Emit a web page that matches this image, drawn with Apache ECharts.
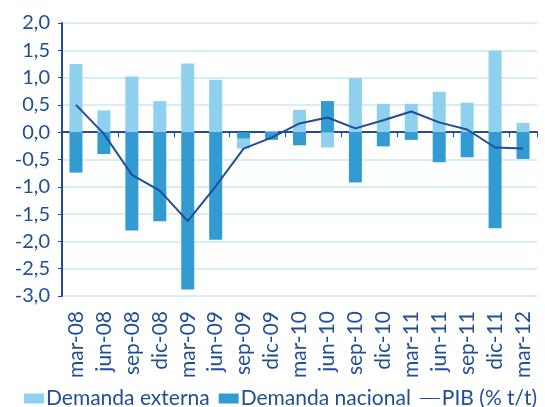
<!DOCTYPE html>
<html>
<head>
<meta charset="utf-8">
<script src="https://cdn.jsdelivr.net/npm/echarts@6/dist/echarts.min.js"></script>
<style>
  html, body { margin: 0; padding: 0; background: #fff; }
  #chart { width: 545px; height: 407px; }
</style>
</head>
<body>
<div id="chart"></div>
<script>
const categories = ['mar-08', 'jun-08', 'sep-08', 'dic-08', 'mar-09', 'jun-09', 'sep-09', 'dic-09', 'mar-10',
  'jun-10', 'sep-10', 'dic-10', 'mar-11', 'jun-11', 'sep-11', 'dic-11', 'mar-12']
const demandaExterna = [1.25, 0.40, 1.02, 0.57, 1.26, 0.96, -0.18, 0.02, 0.41, -0.28, 0.99, 0.52, 0.52, 0.74, 0.54, 1.49, 0.17]
const demandaNacional = [-0.74, -0.40, -1.80, -1.63, -2.88, -1.97, -0.12, -0.14, -0.24, 0.57, -0.92, -0.26, -0.14, -0.55, -0.46, -1.76, -0.49]
const pib = [0.50, -0.03, -0.78, -1.07, -1.63, -0.99, -0.30, -0.10, 0.16, 0.27, 0.07, 0.22, 0.38, 0.18, 0.05, -0.28, -0.30]

const navy = '#1f4e96'
const light = '#8ed0ee'
const dark = '#329bd2'
const font = 'Lato'

// thin horizontal line as legend icon (tiny corner dots keep the box size)
const lineIcon = 'path://M0,0L0.1,0L0.1,0.1Z M0,4.4L30,4.4L30,5.6L0,5.6Z M29.9,10L30,10L30,9.9Z'

const chart = echarts.init(document.getElementById('chart'))

const option = {
  animation: false,
  textStyle: { fontFamily: font },
  grid: { left: 62, right: 8, top: 23, bottom: 111 },
  legend: {
    data: [
      { name: 'Demanda externa', icon: 'rect' },
      { name: 'Demanda nacional', icon: 'rect' },
      { name: 'PIB (% t/t)', icon: lineIcon }
    ],
    left: 19, bottom: -7,
    itemWidth: 20, itemHeight: 10, itemGap: 9,
    textStyle: { color: navy, fontSize: 21, fontFamily: font, padding: [0, 0, 0, -3] }
  },
  xAxis: [
    {
      type: 'category', data: categories,
      axisLine: { onZero: true, lineStyle: { color: navy, width: 2 } },
      axisTick: { show: true, length: 5, inside: false, lineStyle: { color: navy } },
      axisLabel: { show: false }
    },
    {
      type: 'category', data: categories, position: 'bottom',
      axisLine: { show: false, onZero: false },
      axisTick: { show: false },
      axisLabel: { rotate: 90, color: navy, fontSize: 21, margin: 15, fontFamily: font }
    }
  ],
  yAxis: {
    type: 'value', min: -3, max: 2, interval: 0.5,
    axisLine: { show: true, lineStyle: { color: navy, width: 2 } },
    axisTick: { show: true, length: 4, lineStyle: { color: navy } },
    splitLine: { lineStyle: { color: '#c8e8f6', width: 1.5 } },
    axisLabel: {
      color: navy, fontSize: 20, margin: 12, fontFamily: font,
      formatter: v => v.toFixed(1).replace('.', ',')
    }
  },
  series: [
    {
      name: 'Demanda nacional', type: 'bar', stack: 'd', data: demandaNacional,
      barWidth: 13, itemStyle: { color: dark }
    },
    {
      name: 'Demanda externa', type: 'bar', stack: 'd', data: demandaExterna,
      barWidth: 13, itemStyle: { color: light }
    },
    {
      name: 'PIB (% t/t)', type: 'line', data: pib,
      symbol: 'none', lineStyle: { color: navy, width: 2 }, itemStyle: { color: navy },
      z: 5
    }
  ]
}

chart.setOption(option)
</script>
</body>
</html>
